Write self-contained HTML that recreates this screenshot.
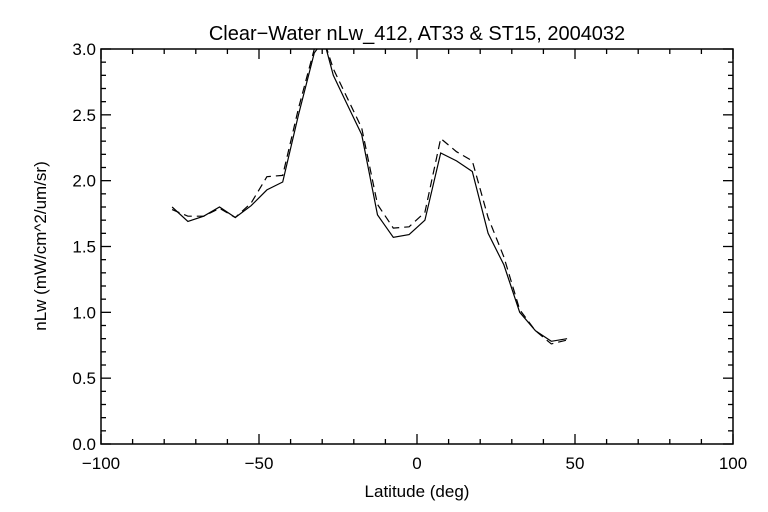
<!DOCTYPE html>
<html><head><meta charset="utf-8"><style>
html,body{margin:0;padding:0;background:#fff;}
svg{display:block;font-family:"Liberation Sans",sans-serif;}
</style></head><body>
<svg id="chart" width="768" height="512" viewBox="0 0 768 512">
<defs><clipPath id="clip"><rect x="101" y="49" width="632" height="395"/></clipPath></defs>
<rect x="0" y="0" width="768" height="512" fill="#fff"/>
<text x="417" y="40" text-anchor="middle" font-size="20" fill="#000">Clear−Water nLw_412, AT33 &amp; ST15, 2004032</text>
<text x="417" y="497" text-anchor="middle" font-size="17" fill="#000">Latitude (deg)</text>
<text transform="translate(46,246) rotate(-90)" text-anchor="middle" font-size="17" fill="#000">nLw (mW/cm^2/um/sr)</text>
<g id="axes"></g>
<g id="series" clip-path="url(#clip)"></g>
</svg>
<script>
const lats = [-77.5,-72.5,-67.5,-62.5,-57.5,-52.5,-47.5,-42.5,-37.5,-32.5,-29.5,-26.5,-22.5,-17.5,-12.5,-7.5,-2.5,2.5,7.5,12.5,17.5,22.5,27.5,32.5,37.5,42.5,47.5];
const solidVals = [1.80,1.69,1.73,1.80,1.72,1.81,1.93,1.99,2.50,2.97,3.07,2.80,2.60,2.35,1.74,1.57,1.59,1.70,2.21,2.15,2.07,1.60,1.36,1.00,0.86,0.78,0.80];
const dashVals = [1.78,1.73,1.73,1.79,1.72,1.83,2.03,2.04,2.55,3.00,3.07,2.85,2.65,2.40,1.82,1.64,1.65,1.76,2.32,2.22,2.15,1.72,1.42,1.02,0.86,0.76,0.79];
const xTicks = [-100,-50,0,50,100];
const yTicks = [0.0,0.5,1.0,1.5,2.0,2.5,3.0];
const X0=101,X1=733,Y0=444,Y1=49;
const xs = v => X0 + (v+100)/200*(X1-X0);
const ys = v => Y0 - v/3*(Y0-Y1);
const NS="http://www.w3.org/2000/svg";
const axes=document.getElementById('axes');
function line(g,x1,y1,x2,y2,name){
  const l=document.createElementNS(NS,'line');
  l.setAttribute('x1',x1);l.setAttribute('y1',y1);l.setAttribute('x2',x2);l.setAttribute('y2',y2);
  l.setAttribute('stroke','#000');l.setAttribute('stroke-width','1.3');
  
  
  g.appendChild(l);return l;
}
const frame=document.createElementNS(NS,'rect');
frame.setAttribute('x',X0);frame.setAttribute('y',Y1);frame.setAttribute('width',X1-X0);frame.setAttribute('height',Y0-Y1);
frame.setAttribute('fill','none');frame.setAttribute('stroke','#000');frame.setAttribute('stroke-width','1.5');


axes.appendChild(frame);
for(let v=-100;v<=100;v+=10){
  const major=(v%50===0);const L=major?10:5;const x=xs(v);
  line(axes,x,Y0,x,Y0-L,'x-tick');line(axes,x,Y1,x,Y1+L,'x-tick-top');
}
for(let i=0;i<=30;i++){
  const v=i/10;const major=(i%5===0);const L=major?10:5;const y=ys(v);
  line(axes,X0,y,X0+L,y,'y-tick');line(axes,X1,y,X1-L,y,'y-tick-right');
}
xTicks.forEach(v=>{
  const t=document.createElementNS(NS,'text');
  t.setAttribute('x',xs(v));t.setAttribute('y',Y0+25);t.setAttribute('text-anchor','middle');t.setAttribute('font-size','17');
  t.textContent=(v<0?'−'+Math.abs(v):String(v));
  
  
  axes.appendChild(t);
});
yTicks.forEach(v=>{
  const t=document.createElementNS(NS,'text');
  t.setAttribute('x',X0-5);t.setAttribute('y',ys(v)+6);t.setAttribute('text-anchor','end');t.setAttribute('font-size','17');
  t.textContent=v.toFixed(1);
  
  
  axes.appendChild(t);
});
const series=document.getElementById('series');
function poly(vals,dash,name){
  const p=document.createElementNS(NS,'polyline');
  p.setAttribute('points',lats.map((la,i)=>xs(la).toFixed(1)+','+ys(vals[i]).toFixed(1)).join(' '));
  p.setAttribute('fill','none');p.setAttribute('stroke','#000');p.setAttribute('stroke-width','1.2');
  if(dash)p.setAttribute('stroke-dasharray','8,5');
  
  
  series.appendChild(p);
}
poly(dashVals,true,'st15-dashed-line');
poly(solidVals,false,'at33-solid-line');
</script>
</body></html>
